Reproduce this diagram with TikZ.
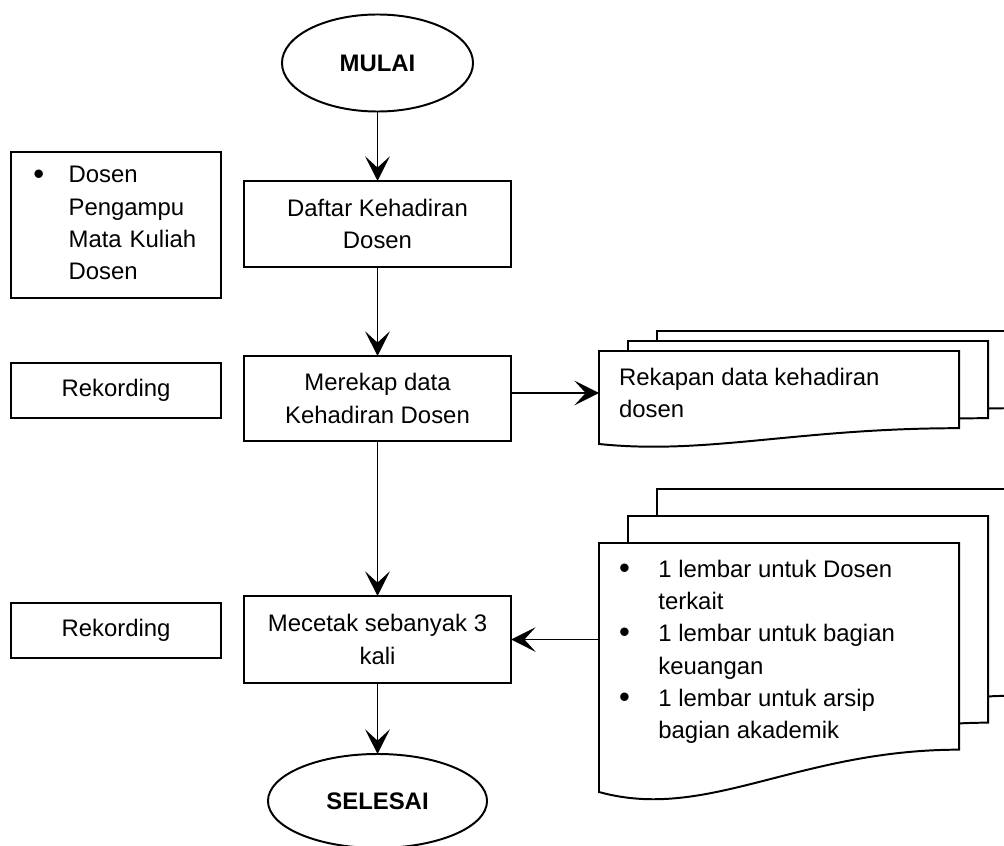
\documentclass[tikz,border=0pt]{standalone}
\usepackage{fontspec}
\setmainfont{Liberation Sans}
\usetikzlibrary{arrows.meta,shapes.geometric,calc}
\newcommand{\flowfont}{\fontsize{17}{23}\selectfont}
\newcommand{\bul}{\raisebox{-0.8pt}{\fontsize{22}{23}\selectfont\textbullet}}
% one sheet of a document stack: left x, top y, width, height (px)
\newcommand{\docpage}[4]{%
  \draw[line width=1.4pt,fill=white] (#1,#2) -- (#1+#3,#2) -- (#1+#3,#2+0.83*#4)
    .. controls (#1+0.55*#3,#2+0.83*#4) and (#1+0.3*#3,#2+1.12*#4) .. (#1,#2+#4) -- cycle;}

\begin{document}
\begin{tikzpicture}[x=0.025cm,y=-0.025cm,
  proc/.style={draw,line width=1.4pt,minimum width=6.675cm,align=center,
    inner sep=0pt,outer sep=0pt,font=\flowfont},
  side/.style={draw,line width=1.4pt,minimum width=5.25cm,minimum height=1.375cm,
    inner sep=0pt,outer sep=0pt,font=\flowfont},
  term/.style={draw,ellipse,line width=1.4pt,inner sep=0pt,outer sep=0pt,
    font=\flowfont\bfseries},
  doctxt/.style={anchor=west,align=left,inner xsep=0.5cm,inner ysep=0pt,
    outer sep=0pt,font=\flowfont},
  a/.style={-{Stealth[length=17.5pt,width=17.5pt,inset=8pt]},line width=1.4pt}]
\clip (0,0) rectangle (1004,846);
% main column
\node[term,minimum width=4.775cm,minimum height=2.425cm] (mulai) at (377.5,63) {MULAI};
\node[proc,minimum height=2.15cm] (daftar) at (377.5,224) {Daftar Kehadiran\\Dosen};
\node[proc,minimum height=2.125cm] (rekap) at (377.5,398.5) {Merekap data\\Kehadiran Dosen};
\node[proc,minimum height=2.175cm] (cetak) at (377.5,639.5) {Mecetak sebanyak 3\\kali};
\node[term,minimum width=5.475cm,minimum height=2.35cm] (selesai) at (377.5,801) {SELESAI};
% left column
\node[side,minimum height=3.65cm,text width=5.25cm,align=left] (dosen) at (116,225)
  {\noindent\begin{tabular}{@{\hspace{16pt}}p{25pt}@{}l@{}}\bul & Dosen\\ & Pengampu\\ & Mata Kuliah\\ & Dosen\end{tabular}};
\node[side] (rek1) at (116,390.5) {Rekording};
\node[side] (rek2) at (116,630.5) {Rekording};
% document stacks
\docpage{657}{331}{360}{93} \docpage{628}{341}{360}{93} \docpage{599}{351}{360}{93}
\node[doctxt] (rekapan) at (599,393) {Rekapan data kehadiran\\dosen};
\docpage{657}{489}{360}{249} \docpage{628}{516}{360}{249} \docpage{599}{543}{360}{249}
\node[doctxt] (lembar) at (599,651.5)
  {\begin{tabular}{@{}p{28pt}@{}l@{}}\bul & 1 lembar untuk Dosen\\ & terkait\\
   \bul & 1 lembar untuk bagian\\ & keuangan\\
   \bul & 1 lembar untuk arsip\\ & bagian akademik\end{tabular}};
% connectors
\draw[a] (mulai) -- (daftar);
\draw[a] (daftar) -- (rekap);
\draw[a] (rekap) -- (cetak);
\draw[a] (cetak) -- (selesai);
\draw[a] (rekapan.west -| rekap.east) -- (rekapan.west);
\draw[a] (lembar.west |- cetak.east) -- (cetak.east);
\end{tikzpicture}
\end{document}
